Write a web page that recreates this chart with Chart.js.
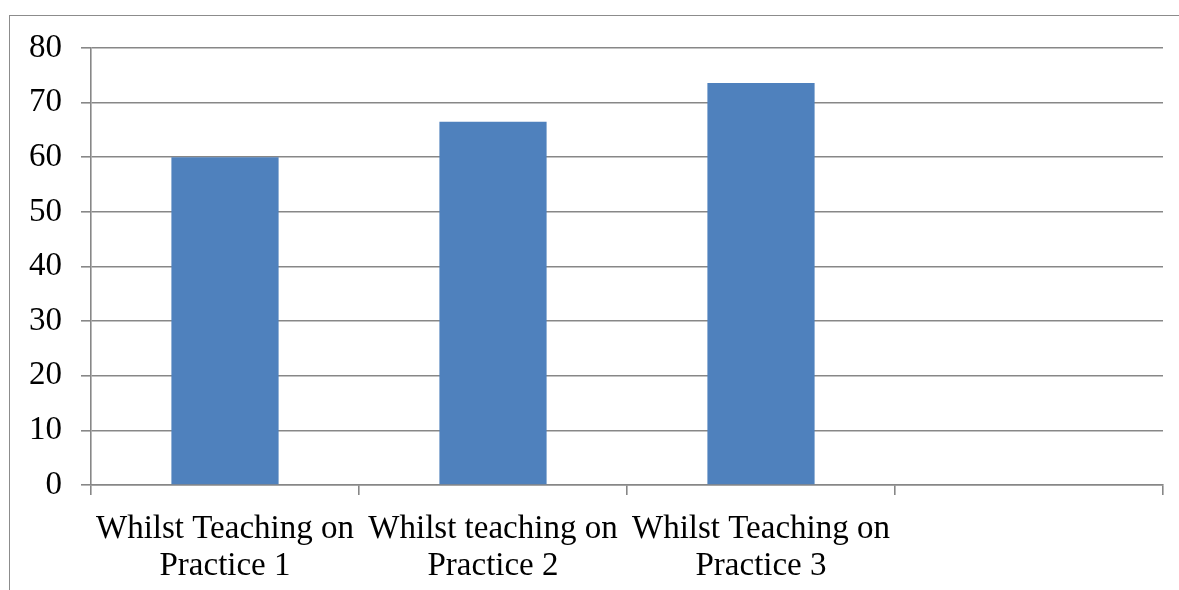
<!DOCTYPE html>
<html>
<head>
<meta charset="utf-8">
<script src="https://cdn.jsdelivr.net/npm/chart.js@4"></script>
<style>
  html, body { margin: 0; padding: 0; background: #ffffff; }
  #wrap { position: relative; width: 1179px; height: 590px; overflow: hidden; }
  #frame { position: absolute; left: 9px; top: 15px; width: 1200px; height: 600px;
           border-left: 1.5px solid #8c8c8c; border-top: 1px solid #8c8c8c; box-sizing: border-box; }
  canvas { position: absolute; left: 0; top: 0; }
</style>
</head>
<body>
<div id="wrap">
  <div id="frame"></div>
  <canvas id="c" width="1179" height="590"></canvas>
</div>
<script>
const categories = [
  ["Whilst Teaching on", "Practice 1"],
  ["Whilst teaching on", "Practice 2"],
  ["Whilst Teaching on", "Practice 3"],
  ""
];
const values = [60, 66.5, 73.6, null];
const yMin = 0, yMax = 80, yStep = 10;

const gridColor = '#878787';
const fontFamily = '"Liberation Serif", "Times New Roman", serif';

new Chart(document.getElementById('c'), {
  type: 'bar',
  data: {
    labels: categories,
    datasets: [{
      data: values,
      backgroundColor: '#4f81bd',
      borderWidth: 0,
      categoryPercentage: 0.8,
      barPercentage: 0.5
    }]
  },
  options: {
    responsive: false,
    animation: false,
    devicePixelRatio: 1,
    layout: { padding: { left: 0, right: 16, top: 48, bottom: 0 } },
    plugins: { legend: { display: false }, tooltip: { enabled: false } },
    scales: {
      x: {
        grid: { display: true, drawOnChartArea: false, drawTicks: true, tickLength: 10, offset: true, color: gridColor, lineWidth: 1.6 },
        border: { display: true, color: gridColor, width: 1.6 },
        ticks: { color: '#000', font: { family: fontFamily, size: 33, lineHeight: 1.12 }, padding: 16, maxRotation: 0, autoSkip: false },
        afterFit: s => { s.height = 105; }
      },
      y: {
        min: yMin, max: yMax,
        grid: { color: gridColor, lineWidth: 1.6, tickLength: 10, drawTicks: true },
        border: { display: true, color: gridColor, width: 1.6 },
        ticks: { stepSize: yStep, color: '#000', font: { family: fontFamily, size: 33 }, padding: 19 },
        afterFit: s => { s.width = 91; }
      }
    }
  }
});
</script>
</body>
</html>
